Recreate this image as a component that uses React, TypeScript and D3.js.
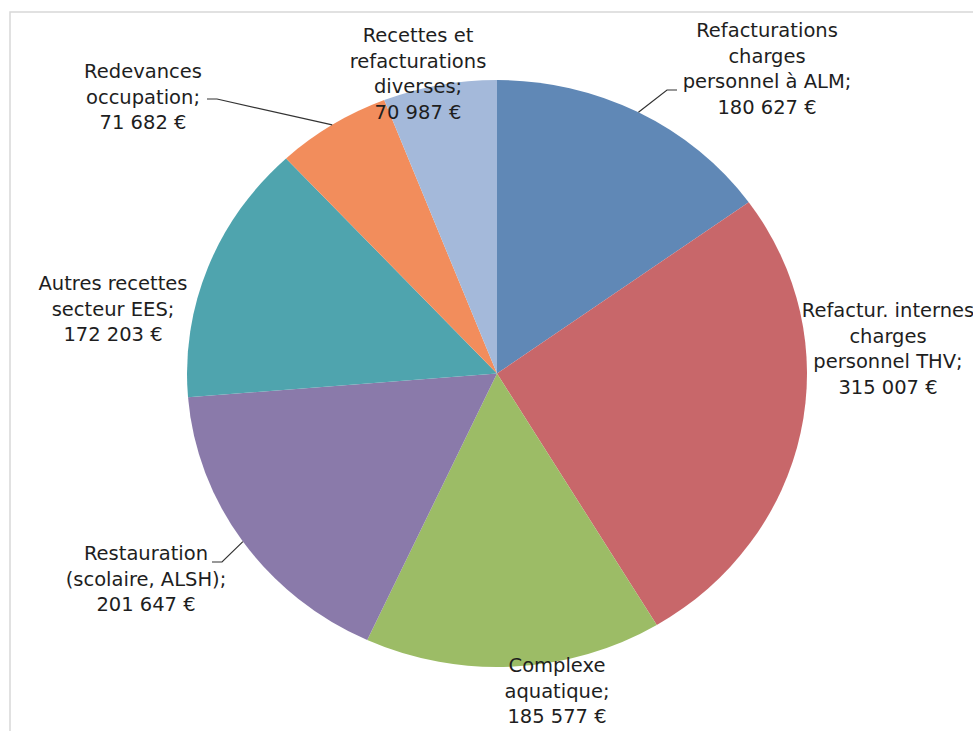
import React from "react";
import * as d3 from "d3";

const categories = [
  "Refacturations charges personnel à ALM",
  "Refactur. internes charges personnel THV",
  "Complexe aquatique",
  "Restauration (scolaire, ALSH)",
  "Autres recettes secteur EES",
  "Redevances occupation",
  "Recettes et refacturations diverses",
];
const values = [180627, 315007, 185577, 201647, 172203, 71682, 70987];
const labelLines = [
  ["Refacturations", "charges", "personnel à ALM;", "180 627 €"],
  ["Refactur. internes", "charges", "personnel THV;", "315 007 €"],
  ["Complexe", "aquatique;", "185 577 €"],
  ["Restauration", "(scolaire, ALSH);", "201 647 €"],
  ["Autres recettes", "secteur EES;", "172 203 €"],
  ["Redevances", "occupation;", "71 682 €"],
  ["Recettes et", "refacturations", "diverses;", "70 987 €"],
];
const colors = ["#6088B6", "#C8676A", "#9CBC66", "#8A7AAA", "#4FA4AE", "#F28D5C", "#A4B9DA"];

// layout (label block centers and leader elbows)
const labelPos: [number, number][] = [
  [767, 30], [888, 310], [557, 665], [146, 553], [113, 283], [143, 71], [418, 35],
];
const leaders: ([number, number][] | null)[] = [
  [[677, 90], [667, 90]],
  null,
  null,
  [[212, 562], [222, 562]],
  null,
  [[207, 99], [217, 99]],
  null,
];

const W = 973, H = 731;
const cx = 497, cy = 373.5, rx = 310, ry = 293.5;
const lineH = 25.5;

export default function App() {
  const pie = d3.pie<number>().sort(null).value((d) => d)(values);
  const arc = d3.arc<d3.PieArcDatum<number>>().innerRadius(0).outerRadius(rx);
  const sy = ry / rx;
  return (
    <svg width={W} height={H} style={{ position: "absolute", left: 0, top: 0, background: "#fff" }}
      fontFamily="'DejaVu Sans', Verdana, sans-serif">
      <rect x={10} y={12} width={1000} height={760} fill="#fff" stroke="#d8d8d8" strokeWidth={1.5} />
      <g transform={`translate(${cx},${cy}) scale(1,${sy})`}>
        {pie.map((p, i) => (
          <path key={i} d={arc(p) || ""} fill={colors[i]} />
        ))}
      </g>
      {pie.map((p, i) => {
        const L = leaders[i];
        if (!L) return null;
        const a = (p.startAngle + p.endAngle) / 2;
        const ex = cx + rx * Math.sin(a);
        const ey = cy - ry * Math.cos(a);
        const pts = [...L, [ex, ey]];
        return (
          <path key={"l" + i} d={d3.line()(pts as [number, number][]) || ""} fill="none" stroke="#333" strokeWidth={1.2} />
        );
      })}
      {labelLines.map((lines, i) => (
        <text key={"t" + i} textAnchor="middle" fontSize={19.5} fill="#1e1e1e">
          {lines.map((s, j) => (
            <tspan key={j} x={labelPos[i][0]} y={labelPos[i][1] + j * lineH} dy="0.36em">{s}</tspan>
          ))}
        </text>
      ))}
    </svg>
  );
}
